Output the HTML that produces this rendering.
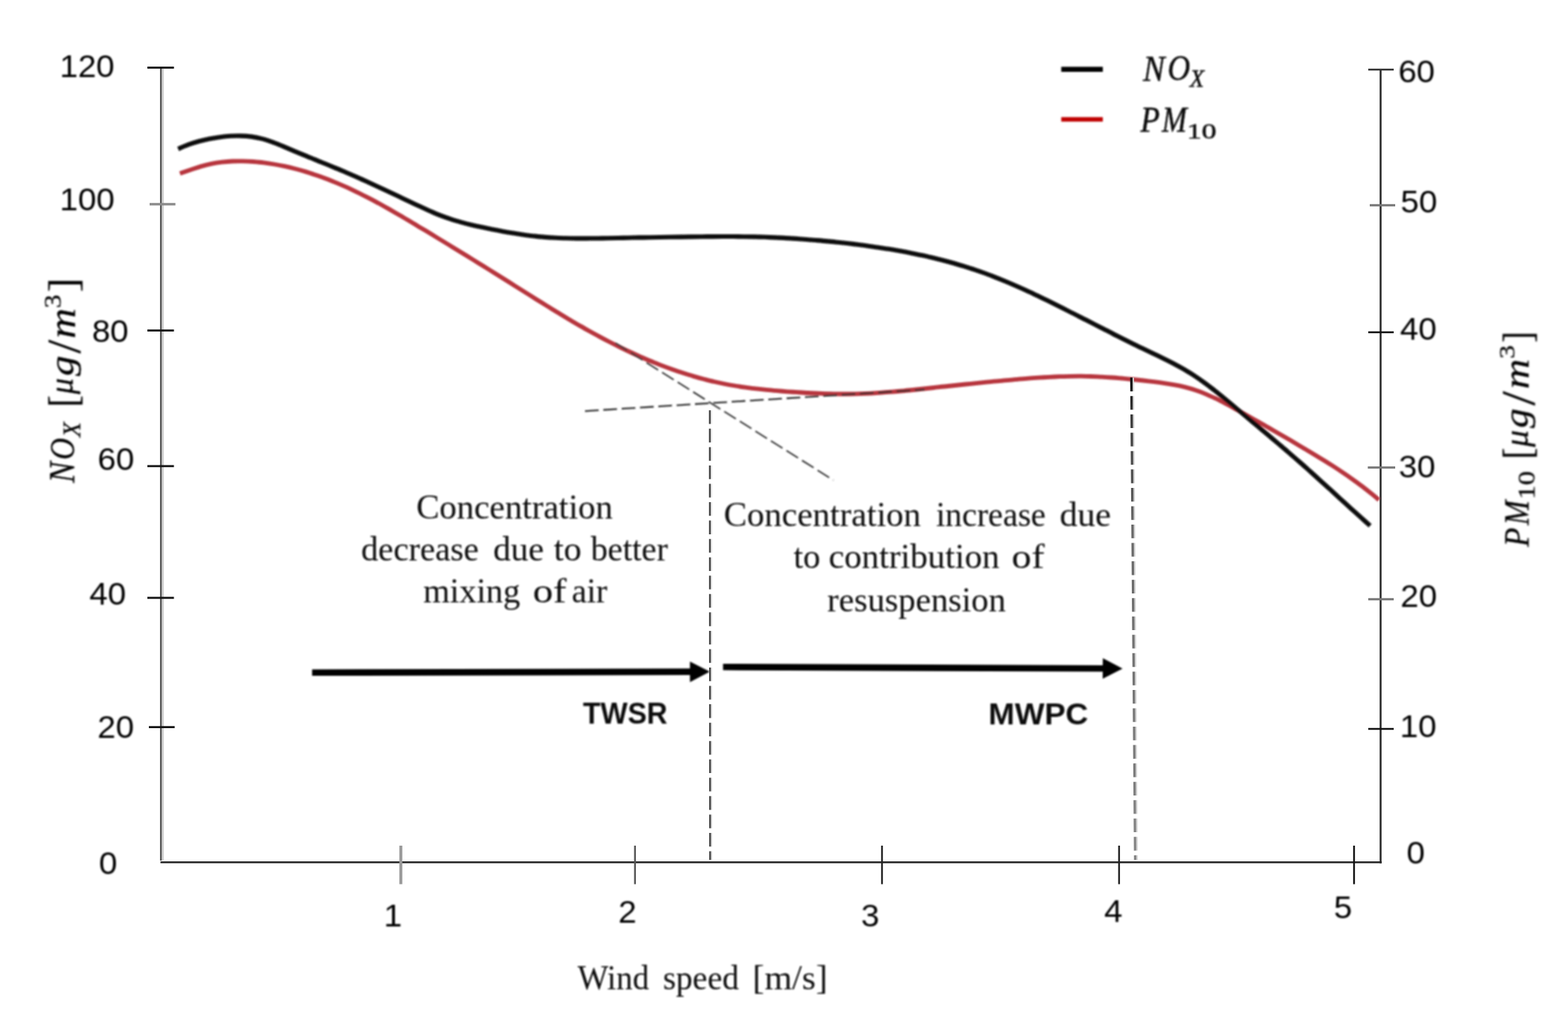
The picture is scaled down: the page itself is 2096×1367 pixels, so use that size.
<!DOCTYPE html>
<html lang="en">
<head>
<meta charset="utf-8">
<title>Concentration vs wind speed</title>
<style>
html,body{margin:0;padding:0;background:#fff;}
body{width:2096px;height:1367px;overflow:hidden;}
svg{display:block;}
text{white-space:pre;}
</style>
</head>
<body>
<svg width="2096" height="1367" viewBox="0 0 2096 1367">
<rect x="0" y="0" width="2096" height="1367" fill="#ffffff"/>
<!-- axes -->
<g id="axes" fill="none">
  <line x1="215.2" y1="90" x2="215.2" y2="1150" stroke="#555" stroke-width="2.6"/>
  <line x1="217.7" y1="92" x2="217.7" y2="1150" stroke="#d0d0d0" stroke-width="2.4"/>
  <line x1="214.5" y1="1152.3" x2="1847" y2="1152.3" stroke="#262626" stroke-width="2.4"/>
  <line x1="1845.5" y1="92" x2="1845.5" y2="1153.5" stroke="#262626" stroke-width="2.5"/>
</g>
<g id="lticks" stroke-width="2.7">
  <line x1="197" y1="90.3" x2="232.5" y2="90.3" stroke="#0c0c0c"/>
  <line x1="200" y1="272.8" x2="234.5" y2="272.8" stroke="#8a8a8a" stroke-width="3.2"/>
  <line x1="197" y1="441.6" x2="232.5" y2="441.6" stroke="#141414"/>
  <line x1="197" y1="622.8" x2="232.5" y2="622.8" stroke="#141414"/>
  <line x1="197" y1="798.9" x2="232.5" y2="798.9" stroke="#141414"/>
  <line x1="199" y1="971.7" x2="233.5" y2="971.7" stroke="#141414"/>
</g>
<g id="rticks" stroke-width="2.5">
  <line x1="1829" y1="92.9" x2="1863" y2="92.9" stroke="#333"/>
  <line x1="1831" y1="274.2" x2="1865" y2="274.2" stroke="#777" stroke-width="2.9"/>
  <line x1="1829" y1="443.9" x2="1863" y2="443.9" stroke="#111"/>
  <line x1="1828.4" y1="624.7" x2="1865" y2="624.7" stroke="#777" stroke-width="3"/>
  <line x1="1829" y1="800.7" x2="1863" y2="800.7" stroke="#777" stroke-width="2.9"/>
  <line x1="1829" y1="973.9" x2="1863" y2="973.9" stroke="#111"/>
</g>
<g id="xticks" stroke-width="2.4">
  <line x1="535.8" y1="1130" x2="535.8" y2="1181.5" stroke="#9a9a9a" stroke-width="4"/>
  <line x1="848.8" y1="1130" x2="848.8" y2="1181.5" stroke="#555"/>
  <line x1="1179" y1="1130" x2="1179" y2="1181.5" stroke="#222"/>
  <line x1="1495.9" y1="1130" x2="1495.9" y2="1181.5" stroke="#222"/>
  <line x1="1810" y1="1130" x2="1810" y2="1181.5" stroke="#111"/>
</g>

<defs><filter id="soft" x="-2%" y="-2%" width="104%" height="104%"><feGaussianBlur stdDeviation="0.80"/></filter></defs>
<g filter="url(#soft)">
<!-- curves -->
<path id="pm" d="M240.5,231.8 C242.8,231.0 249.8,228.5 254.5,226.9 C259.2,225.4 263.8,223.8 268.5,222.4 C273.2,221.1 277.8,219.9 282.5,218.9 C287.2,217.9 291.8,217.2 296.5,216.6 C301.2,216.1 305.8,215.7 310.5,215.5 C315.2,215.3 319.8,215.3 324.5,215.4 C329.2,215.5 333.8,215.7 338.5,216.0 C343.2,216.4 347.8,216.8 352.5,217.4 C357.2,218.0 361.8,218.7 366.5,219.5 C371.2,220.3 375.8,221.2 380.5,222.2 C385.2,223.2 389.8,224.3 394.5,225.5 C399.2,226.7 403.8,228.0 408.5,229.4 C413.2,230.8 417.8,232.4 422.5,234.0 C427.2,235.5 431.8,237.2 436.5,239.0 C441.2,240.8 445.8,242.7 450.5,244.6 C455.2,246.6 459.8,248.6 464.5,250.7 C469.2,252.8 473.8,255.1 478.5,257.3 C483.2,259.6 487.8,262.0 492.5,264.4 C497.2,266.8 501.8,269.3 506.5,271.8 C511.2,274.4 515.8,277.0 520.5,279.6 C525.2,282.3 529.8,285.0 534.5,287.7 C539.2,290.4 543.8,293.2 548.5,296.0 C553.2,298.7 557.8,301.6 562.5,304.4 C567.2,307.2 571.8,310.0 576.5,312.8 C581.2,315.7 585.8,318.5 590.5,321.4 C595.2,324.2 599.8,327.1 604.5,329.9 C609.2,332.8 613.8,335.6 618.5,338.5 C623.2,341.4 627.8,344.2 632.5,347.1 C637.2,350.0 641.8,352.9 646.5,355.8 C651.2,358.7 655.8,361.6 660.5,364.5 C665.2,367.4 669.8,370.3 674.5,373.3 C679.2,376.2 683.8,379.1 688.5,382.1 C693.2,385.0 697.8,387.9 702.5,390.9 C707.2,393.8 711.8,396.7 716.5,399.7 C721.2,402.6 725.8,405.5 730.5,408.4 C735.2,411.3 739.8,414.1 744.5,417.0 C749.2,419.8 753.8,422.7 758.5,425.4 C763.2,428.2 767.8,431.0 772.5,433.7 C777.2,436.4 781.8,439.1 786.5,441.7 C791.2,444.3 795.8,446.9 800.5,449.4 C805.2,451.9 809.8,454.3 814.5,456.8 C819.2,459.2 823.8,461.5 828.5,463.8 C833.2,466.1 837.8,468.3 842.5,470.5 C847.2,472.7 851.8,474.8 856.5,476.9 C861.2,478.9 865.8,480.9 870.5,482.8 C875.2,484.7 879.8,486.6 884.5,488.4 C889.2,490.2 893.8,491.9 898.5,493.6 C903.2,495.2 907.8,496.8 912.5,498.3 C917.2,499.8 921.8,501.3 926.5,502.6 C931.2,504.0 935.8,505.3 940.5,506.5 C945.2,507.7 949.8,508.9 954.5,510.0 C959.2,511.0 963.8,512.0 968.5,513.0 C973.2,513.9 977.8,514.7 982.5,515.5 C987.2,516.3 991.8,517.0 996.5,517.7 C1001.2,518.3 1005.8,518.9 1010.5,519.4 C1015.2,520.0 1019.8,520.5 1024.5,520.9 C1029.2,521.4 1033.8,521.8 1038.5,522.2 C1043.2,522.6 1047.8,522.9 1052.5,523.3 C1057.2,523.6 1061.8,523.9 1066.5,524.2 C1071.2,524.5 1075.8,524.8 1080.5,525.0 C1085.2,525.3 1089.8,525.5 1094.5,525.7 C1099.2,525.9 1103.8,526.1 1108.5,526.2 C1113.2,526.3 1117.8,526.4 1122.5,526.5 C1127.2,526.5 1131.8,526.5 1136.5,526.5 C1141.2,526.4 1145.8,526.3 1150.5,526.2 C1155.2,526.0 1159.8,525.8 1164.5,525.6 C1169.2,525.4 1173.8,525.1 1178.5,524.7 C1183.2,524.4 1187.8,524.0 1192.5,523.6 C1197.2,523.2 1201.8,522.8 1206.5,522.4 C1211.2,521.9 1215.8,521.4 1220.5,521.0 C1225.2,520.5 1229.8,520.0 1234.5,519.5 C1239.2,519.0 1243.8,518.5 1248.5,518.0 C1253.2,517.5 1257.8,516.9 1262.5,516.5 C1267.2,516.0 1271.8,515.5 1276.5,515.0 C1281.2,514.5 1285.8,514.0 1290.5,513.5 C1295.2,513.0 1299.8,512.6 1304.5,512.1 C1309.2,511.6 1313.8,511.2 1318.5,510.7 C1323.2,510.2 1327.8,509.8 1332.5,509.4 C1337.2,508.9 1341.8,508.5 1346.5,508.1 C1351.2,507.6 1355.8,507.2 1360.5,506.8 C1365.2,506.4 1369.8,506.0 1374.5,505.7 C1379.2,505.3 1383.8,505.0 1388.5,504.7 C1393.2,504.4 1397.8,504.1 1402.5,503.8 C1407.2,503.6 1411.8,503.4 1416.5,503.2 C1421.2,503.0 1425.8,502.9 1430.5,502.8 C1435.2,502.7 1439.8,502.7 1444.5,502.7 C1449.2,502.8 1453.8,502.9 1458.5,503.0 C1463.2,503.1 1467.8,503.4 1472.5,503.6 C1477.2,503.9 1481.8,504.2 1486.5,504.5 C1491.2,504.8 1495.8,505.2 1500.5,505.6 C1505.2,506.1 1509.8,506.5 1514.5,507.0 C1519.2,507.5 1523.8,508.0 1528.5,508.5 C1533.2,509.1 1537.8,509.6 1542.5,510.2 C1547.2,510.8 1551.8,511.4 1556.5,512.1 C1561.2,512.7 1565.8,513.5 1570.5,514.4 C1575.2,515.2 1579.8,516.2 1584.5,517.4 C1589.2,518.6 1593.8,519.9 1598.5,521.5 C1603.2,523.0 1607.8,524.8 1612.5,526.8 C1617.2,528.8 1621.8,531.0 1626.5,533.2 C1631.2,535.5 1635.8,538.0 1640.5,540.5 C1645.2,542.9 1649.8,545.6 1654.5,548.1 C1659.2,550.7 1663.8,553.4 1668.5,556.0 C1673.2,558.7 1677.8,561.3 1682.5,563.9 C1687.2,566.6 1691.8,569.3 1696.5,571.9 C1701.2,574.6 1705.8,577.3 1710.5,580.0 C1715.2,582.7 1719.8,585.4 1724.5,588.1 C1729.2,590.9 1733.8,593.6 1738.5,596.4 C1743.2,599.1 1747.8,601.9 1752.5,604.7 C1757.2,607.5 1761.8,610.3 1766.5,613.2 C1771.2,616.0 1775.8,618.9 1780.5,621.9 C1785.2,624.9 1789.8,627.9 1794.5,631.1 C1799.2,634.2 1803.8,637.4 1808.5,640.8 C1813.2,644.1 1817.8,647.6 1822.5,651.1 C1827.2,654.7 1833.0,659.5 1836.5,662.3 C1840.0,665.1 1842.1,667.1 1843.2,668.0" fill="none" stroke="#b7353e" stroke-width="5.8"/>
<path id="nox" d="M238.1,199.0 C240.4,198.0 247.4,194.9 252.1,193.2 C256.8,191.5 261.4,190.1 266.1,188.8 C270.8,187.6 275.4,186.5 280.1,185.5 C284.8,184.6 289.4,183.8 294.1,183.2 C298.8,182.6 303.4,182.1 308.1,181.8 C312.8,181.6 317.4,181.4 322.1,181.6 C326.8,181.7 331.4,182.0 336.1,182.6 C340.8,183.3 345.4,184.2 350.1,185.4 C354.8,186.6 359.4,188.2 364.1,189.9 C368.8,191.5 373.4,193.5 378.1,195.4 C382.8,197.3 387.4,199.4 392.1,201.3 C396.8,203.3 401.4,205.2 406.1,207.1 C410.8,209.1 415.4,210.9 420.1,212.8 C424.8,214.8 429.4,216.6 434.1,218.5 C438.8,220.5 443.4,222.4 448.1,224.3 C452.8,226.2 457.4,228.2 462.1,230.2 C466.8,232.1 471.4,234.2 476.1,236.2 C480.8,238.3 485.4,240.4 490.1,242.5 C494.8,244.6 499.4,246.8 504.1,248.9 C508.8,251.1 513.4,253.3 518.1,255.5 C522.8,257.7 527.4,259.9 532.1,262.1 C536.8,264.3 541.4,266.5 546.1,268.7 C550.8,270.9 555.4,273.2 560.1,275.3 C564.8,277.5 569.4,279.6 574.1,281.7 C578.8,283.7 583.4,285.7 588.1,287.6 C592.8,289.4 597.4,291.1 602.1,292.7 C606.8,294.3 611.4,295.6 616.1,296.9 C620.8,298.2 625.4,299.4 630.1,300.5 C634.8,301.6 639.4,302.6 644.1,303.6 C648.8,304.6 653.4,305.5 658.1,306.5 C662.8,307.4 667.4,308.3 672.1,309.2 C676.8,310.0 681.4,310.8 686.1,311.6 C690.8,312.4 695.4,313.1 700.1,313.8 C704.8,314.4 709.4,315.0 714.1,315.5 C718.8,316.0 723.4,316.5 728.1,316.9 C732.8,317.2 737.4,317.5 742.1,317.8 C746.8,318.0 751.4,318.2 756.1,318.3 C760.8,318.5 765.4,318.5 770.1,318.6 C774.8,318.6 779.4,318.6 784.1,318.6 C788.8,318.6 793.4,318.5 798.1,318.5 C802.8,318.4 807.4,318.3 812.1,318.2 C816.8,318.1 821.4,318.0 826.1,318.0 C830.8,317.9 835.4,317.8 840.1,317.7 C844.8,317.6 849.4,317.5 854.1,317.4 C858.8,317.4 863.4,317.3 868.1,317.2 C872.8,317.1 877.4,317.0 882.1,317.0 C886.8,316.9 891.4,316.8 896.1,316.8 C900.8,316.7 905.4,316.6 910.1,316.6 C914.8,316.5 919.4,316.4 924.1,316.4 C928.8,316.3 933.4,316.2 938.1,316.2 C942.8,316.2 947.4,316.1 952.1,316.1 C956.8,316.0 961.4,316.0 966.1,316.0 C970.8,316.0 975.4,316.0 980.1,316.0 C984.8,316.1 989.4,316.1 994.1,316.2 C998.8,316.2 1003.4,316.3 1008.1,316.4 C1012.8,316.5 1017.4,316.7 1022.1,316.8 C1026.8,317.0 1031.4,317.2 1036.1,317.4 C1040.8,317.6 1045.4,317.8 1050.1,318.1 C1054.8,318.3 1059.4,318.6 1064.1,318.9 C1068.8,319.3 1073.4,319.6 1078.1,320.0 C1082.8,320.3 1087.4,320.7 1092.1,321.1 C1096.8,321.5 1101.4,321.9 1106.1,322.4 C1110.8,322.8 1115.4,323.3 1120.1,323.8 C1124.8,324.3 1129.4,324.8 1134.1,325.3 C1138.8,325.9 1143.4,326.4 1148.1,327.0 C1152.8,327.6 1157.4,328.2 1162.1,328.9 C1166.8,329.5 1171.4,330.2 1176.1,330.9 C1180.8,331.6 1185.4,332.3 1190.1,333.1 C1194.8,333.9 1199.4,334.7 1204.1,335.5 C1208.8,336.4 1213.4,337.3 1218.1,338.2 C1222.8,339.1 1227.4,340.1 1232.1,341.1 C1236.8,342.1 1241.4,343.2 1246.1,344.3 C1250.8,345.4 1255.4,346.5 1260.1,347.8 C1264.8,349.0 1269.4,350.2 1274.1,351.5 C1278.8,352.9 1283.4,354.2 1288.1,355.7 C1292.8,357.1 1297.4,358.6 1302.1,360.1 C1306.8,361.7 1311.4,363.3 1316.1,365.0 C1320.8,366.7 1325.4,368.5 1330.1,370.3 C1334.8,372.1 1339.4,374.0 1344.1,376.0 C1348.8,377.9 1353.4,379.9 1358.1,382.0 C1362.8,384.0 1367.4,386.1 1372.1,388.3 C1376.8,390.4 1381.4,392.6 1386.1,394.8 C1390.8,397.1 1395.4,399.3 1400.1,401.6 C1404.8,403.9 1409.4,406.2 1414.1,408.5 C1418.8,410.9 1423.4,413.2 1428.1,415.6 C1432.8,417.9 1437.4,420.3 1442.1,422.7 C1446.8,425.1 1451.4,427.5 1456.1,429.8 C1460.8,432.2 1465.4,434.6 1470.1,437.0 C1474.8,439.4 1479.4,441.8 1484.1,444.1 C1488.8,446.5 1493.4,448.9 1498.1,451.2 C1502.8,453.5 1507.4,455.9 1512.1,458.2 C1516.8,460.5 1521.4,462.8 1526.1,465.0 C1530.8,467.3 1535.4,469.5 1540.1,471.7 C1544.8,474.0 1549.4,476.2 1554.1,478.5 C1558.8,480.8 1563.4,483.1 1568.1,485.5 C1572.8,488.0 1577.4,490.5 1582.1,493.2 C1586.8,495.9 1591.4,498.8 1596.1,501.8 C1600.8,504.9 1605.4,508.1 1610.1,511.5 C1614.8,514.9 1619.4,518.5 1624.1,522.1 C1628.8,525.8 1633.4,529.6 1638.1,533.5 C1642.8,537.3 1647.4,541.2 1652.1,545.2 C1656.8,549.1 1661.4,553.0 1666.1,557.0 C1670.8,560.9 1675.4,564.8 1680.1,568.7 C1684.8,572.6 1689.4,576.5 1694.1,580.4 C1698.8,584.4 1703.4,588.3 1708.1,592.3 C1712.8,596.2 1717.4,600.2 1722.1,604.2 C1726.8,608.2 1731.4,612.3 1736.1,616.4 C1740.8,620.4 1745.4,624.6 1750.1,628.8 C1754.8,632.9 1759.4,637.1 1764.1,641.4 C1768.8,645.6 1773.4,649.9 1778.1,654.1 C1782.8,658.4 1787.4,662.6 1792.1,666.9 C1796.8,671.2 1801.4,675.4 1806.1,679.7 C1810.8,683.9 1815.9,688.5 1820.1,692.3 C1824.3,696.1 1829.6,700.8 1831.5,702.5" fill="none" stroke="#0d0d0d" stroke-width="6.1"/>
<!-- guide lines -->
<g id="guides" fill="none" stroke-dasharray="18.3 6.25">
  <line x1="782" y1="549.3" x2="1236" y2="520.6" stroke="#333" stroke-width="2.3"/>
  <line x1="822.7" y1="458.4" x2="1114" y2="641.6" stroke="#3a3a3a" stroke-width="2.1"/>
</g>
<!-- arrows -->
<g id="arrows" fill="#000" stroke="none">
  <polygon points="417.2,903.1 922.3,902.0 922.3,911.4 948.8,897.6 922.3,883.9 922.3,893.3 417.2,894.5"/>
  <polygon points="966.5,895.6 1474.1,897.6 1474.0,907.0 1500.6,893.4 1474.2,879.5 1474.1,888.9 966.5,887.0"/>
</g>
<!-- legend -->
<line x1="1418.6" y1="92.6" x2="1474.2" y2="92.6" stroke="#000" stroke-width="6.8"/>
<line x1="1418.6" y1="159.5" x2="1474.2" y2="159.5" stroke="#c00000" stroke-width="6.2"/>
<g id="legend-text">
<text transform="translate(1528.07,107.55)" font-family='"Liberation Serif","DejaVu Serif",serif' fill="#101010" stroke="#101010" stroke-width="0.60" stroke-linejoin="round"><tspan x="0.00" y="0.00" font-size="47.79" font-style="italic" textLength="29.00" lengthAdjust="spacingAndGlyphs">N</tspan><tspan x="32.70" y="-0.08" font-size="47.61" font-style="italic" textLength="30.11" lengthAdjust="spacingAndGlyphs">O</tspan><tspan x="62.38" y="8.10" font-size="34.05" font-style="italic" textLength="19.13" lengthAdjust="spacingAndGlyphs">X</tspan></text>
<text transform="translate(1524.46,175.55)" font-family='"Liberation Serif","DejaVu Serif",serif' fill="#101010" stroke="#101010" stroke-width="0.60" stroke-linejoin="round"><tspan x="0.00" y="0.00" font-size="47.94" font-style="italic" textLength="25.78" lengthAdjust="spacingAndGlyphs">P</tspan><tspan x="28.79" y="0.00" font-size="47.94" font-style="italic" textLength="33.32" lengthAdjust="spacingAndGlyphs">M</tspan><tspan x="62.02" y="9.71" font-size="29.48" textLength="39.66" lengthAdjust="spacingAndGlyphs">10</tspan></text>
</g>
<!-- tick labels -->
<g id="tick-labels">
  <text transform="translate(79.69,102.58) scale(0.4400,0.4240)" font-family='"Liberation Sans","DejaVu Sans",sans-serif' font-size="100" fill="#000">120</text>
  <text transform="translate(79.74,280.93) scale(0.4400,0.4240)" font-family='"Liberation Sans","DejaVu Sans",sans-serif' font-size="100" fill="#000">100</text>
  <text transform="translate(122.91,456.58) scale(0.4400,0.4240)" font-family='"Liberation Sans","DejaVu Sans",sans-serif' font-size="100" fill="#000">80</text>
  <text transform="translate(130.50,628.28) scale(0.4400,0.4240)" font-family='"Liberation Sans","DejaVu Sans",sans-serif' font-size="100" fill="#000">60</text>
  <text transform="translate(119.55,808.13) scale(0.4400,0.4240)" font-family='"Liberation Sans","DejaVu Sans",sans-serif' font-size="100" fill="#000">40</text>
  <text transform="translate(130.25,986.13) scale(0.4400,0.4240)" font-family='"Liberation Sans","DejaVu Sans",sans-serif' font-size="100" fill="#000">20</text>
  <text transform="translate(132.19,1167.58) scale(0.4400,0.4240)" font-family='"Liberation Sans","DejaVu Sans",sans-serif' font-size="100" fill="#000">0</text>
  <text transform="translate(1869.15,109.68) scale(0.4400,0.4240)" font-family='"Liberation Sans","DejaVu Sans",sans-serif' font-size="100" fill="#000">60</text>
  <text transform="translate(1872.17,283.63) scale(0.4400,0.4240)" font-family='"Liberation Sans","DejaVu Sans",sans-serif' font-size="100" fill="#000">50</text>
  <text transform="translate(1871.55,453.68) scale(0.4400,0.4240)" font-family='"Liberation Sans","DejaVu Sans",sans-serif' font-size="100" fill="#000">40</text>
  <text transform="translate(1869.67,637.58) scale(0.4400,0.4240)" font-family='"Liberation Sans","DejaVu Sans",sans-serif' font-size="100" fill="#000">30</text>
  <text transform="translate(1872.00,811.13) scale(0.4400,0.4240)" font-family='"Liberation Sans","DejaVu Sans",sans-serif' font-size="100" fill="#000">20</text>
  <text transform="translate(1871.20,985.38) scale(0.4400,0.4240)" font-family='"Liberation Sans","DejaVu Sans",sans-serif' font-size="100" fill="#000">10</text>
  <text transform="translate(1880.24,1154.33) scale(0.4400,0.4240)" font-family='"Liberation Sans","DejaVu Sans",sans-serif' font-size="100" fill="#000">0</text>
  <text transform="translate(513.09,1237.92) scale(0.4400,0.4240)" font-family='"Liberation Sans","DejaVu Sans",sans-serif' font-size="100" fill="#000">1</text>
  <text transform="translate(826.39,1232.64) scale(0.4400,0.4240)" font-family='"Liberation Sans","DejaVu Sans",sans-serif' font-size="100" fill="#000">2</text>
  <text transform="translate(1150.95,1238.18) scale(0.4400,0.4240)" font-family='"Liberation Sans","DejaVu Sans",sans-serif' font-size="100" fill="#000">3</text>
  <text transform="translate(1476.05,1231.52) scale(0.4400,0.4240)" font-family='"Liberation Sans","DejaVu Sans",sans-serif' font-size="100" fill="#000">4</text>
  <text transform="translate(1782.89,1226.86) scale(0.4400,0.4240)" font-family='"Liberation Sans","DejaVu Sans",sans-serif' font-size="100" fill="#000">5</text>
</g>
<!-- annotations -->
<g id="annotations">
  <text id="note-left" font-family='"Liberation Serif","DejaVu Serif",serif' font-size="47.00" fill="#0c0c0c"><tspan x="556.39" y="692.50" textLength="262.85" lengthAdjust="spacingAndGlyphs">Concentration</tspan> <tspan x="482.75" y="748.50" textLength="157.37" lengthAdjust="spacingAndGlyphs">decrease</tspan> <tspan x="659.20" y="748.50" textLength="67.94" lengthAdjust="spacingAndGlyphs">due</tspan> <tspan x="740.27" y="748.50" textLength="37.08" lengthAdjust="spacingAndGlyphs">to</tspan> <tspan x="789.65" y="748.50" textLength="103.19" lengthAdjust="spacingAndGlyphs">better</tspan> <tspan x="565.73" y="805.30" textLength="129.66" lengthAdjust="spacingAndGlyphs">mixing</tspan> <tspan x="712.28" y="805.30" textLength="45.16" lengthAdjust="spacingAndGlyphs">of</tspan> <tspan x="764.17" y="805.30" textLength="47.72" lengthAdjust="spacingAndGlyphs">air</tspan></text>
  <text id="note-right" font-family='"Liberation Serif","DejaVu Serif",serif' font-size="47.00" fill="#0c0c0c"><tspan x="967.39" y="703.30" textLength="263.76" lengthAdjust="spacingAndGlyphs">Concentration</tspan> <tspan x="1251.15" y="703.30" textLength="146.89" lengthAdjust="spacingAndGlyphs">increase</tspan> <tspan x="1416.38" y="703.30" textLength="68.78" lengthAdjust="spacingAndGlyphs">due</tspan> <tspan x="1060.69" y="759.30" textLength="35.91" lengthAdjust="spacingAndGlyphs">to</tspan> <tspan x="1107.68" y="759.30" textLength="228.49" lengthAdjust="spacingAndGlyphs">contribution</tspan> <tspan x="1352.34" y="759.30" textLength="44.01" lengthAdjust="spacingAndGlyphs">of</tspan> <tspan x="1105.83" y="817.20" textLength="238.77" lengthAdjust="spacingAndGlyphs">resuspension</tspan></text>
  <text id="xtitle" font-family='"Liberation Serif","DejaVu Serif",serif' font-size="47.00" fill="#0c0c0c"><tspan x="772.05" y="1321.90" textLength="95.51" lengthAdjust="spacingAndGlyphs">Wind</tspan> <tspan x="886.16" y="1321.90" textLength="101.61" lengthAdjust="spacingAndGlyphs">speed</tspan> <tspan x="1006.09" y="1321.90" textLength="100.16" lengthAdjust="spacingAndGlyphs">[m/s]</tspan></text>
  <text transform="translate(779.37,966.55) scale(0.3835,0.3986)" font-family='"Liberation Sans","DejaVu Sans",sans-serif' font-size="100" font-weight="bold" fill="#111">TWSR</text>
  <text transform="translate(1321.31,967.95) scale(0.4212,0.4028)" font-family='"Liberation Sans","DejaVu Sans",sans-serif' font-size="100" font-weight="bold" fill="#111">MWPC</text>
</g>
<!-- axis titles -->
<g id="ytitle-left">
<text transform="translate(99.15,645.14) rotate(-90)" font-family='"Liberation Serif","DejaVu Serif",serif' fill="#000" stroke="#000" stroke-width="0.30" stroke-linejoin="round"><tspan x="0.00" y="0.00" font-size="48.09" font-style="italic" textLength="28.16" lengthAdjust="spacingAndGlyphs">N</tspan><tspan x="30.67" y="-0.17" font-size="47.46" font-style="italic" textLength="29.11" lengthAdjust="spacingAndGlyphs">O</tspan><tspan x="60.94" y="8.40" font-size="34.20" font-style="italic" textLength="20.12" lengthAdjust="spacingAndGlyphs">X</tspan> <tspan x="101.28" y="3.75" font-size="54.46" textLength="15.59" lengthAdjust="spacingAndGlyphs">[</tspan><tspan x="118.59" y="-1.60" font-size="46.52" font-style="italic" textLength="21.36" lengthAdjust="spacingAndGlyphs">μ</tspan><tspan x="142.69" y="-1.30" font-size="46.18" font-style="italic" textLength="27.23" lengthAdjust="spacingAndGlyphs">g</tspan><tspan x="172.89" y="7.77" font-size="63.43" textLength="18.39" lengthAdjust="spacingAndGlyphs">/</tspan><tspan x="192.72" y="0.50" font-size="50.00" font-style="italic" textLength="40.53" lengthAdjust="spacingAndGlyphs">m</tspan><tspan x="233.16" y="-18.41" font-size="31.04" textLength="18.29" lengthAdjust="spacingAndGlyphs">3</tspan><tspan x="254.68" y="3.75" font-size="54.46" textLength="19.09" lengthAdjust="spacingAndGlyphs">]</tspan></text>
</g>
<g id="ytitle-right">
<text transform="translate(2043.25,730.64) rotate(-90)" font-family='"Liberation Serif","DejaVu Serif",serif' fill="#000" stroke="#000" stroke-width="0.30" stroke-linejoin="round"><tspan x="0.00" y="0.00" font-size="47.02" font-style="italic" textLength="25.47" lengthAdjust="spacingAndGlyphs">P</tspan><tspan x="29.09" y="0.00" font-size="47.02" font-style="italic" textLength="33.13" lengthAdjust="spacingAndGlyphs">M</tspan><tspan x="63.27" y="8.19" font-size="30.52" textLength="38.05" lengthAdjust="spacingAndGlyphs">10</tspan> <tspan x="117.22" y="4.06" font-size="54.34" textLength="14.99" lengthAdjust="spacingAndGlyphs">[</tspan><tspan x="133.59" y="-1.50" font-size="46.52" font-style="italic" textLength="22.43" lengthAdjust="spacingAndGlyphs">μ</tspan><tspan x="158.89" y="-1.20" font-size="46.18" font-style="italic" textLength="26.17" lengthAdjust="spacingAndGlyphs">g</tspan><tspan x="188.89" y="7.87" font-size="62.99" textLength="19.20" lengthAdjust="spacingAndGlyphs">/</tspan><tspan x="210.74" y="0.00" font-size="48.72" font-style="italic" textLength="40.31" lengthAdjust="spacingAndGlyphs">m</tspan><tspan x="251.16" y="-19.00" font-size="30.00" textLength="18.29" lengthAdjust="spacingAndGlyphs">3</tspan><tspan x="273.07" y="4.06" font-size="54.34" textLength="14.50" lengthAdjust="spacingAndGlyphs">]</tspan></text>
</g>
</g>
<defs><linearGradient id="vg" gradientUnits="userSpaceOnUse" x1="0" y1="508" x2="0" y2="1149"><stop offset="0" stop-color="#111"/><stop offset="0.06" stop-color="#333"/><stop offset="0.3" stop-color="#666"/><stop offset="1" stop-color="#858585"/></linearGradient></defs>
<g id="guides-v" fill="none" stroke-dasharray="18.3 6.25">
  <line x1="950.6" y1="548.3" x2="951" y2="1149" stroke="#dcdcdc" stroke-width="2"/>
  <line x1="1514.6" y1="504.6" x2="1519.7" y2="1149" stroke="#d2d2d2" stroke-width="2.4"/>
  <line x1="948.8" y1="548.3" x2="949.2" y2="1149" stroke="#444" stroke-width="2.3"/>
  <line x1="1512.3" y1="504.6" x2="1517.4" y2="1149" stroke="url(#vg)" stroke-width="3.2"/>
</g>
</svg>
</body>
</html>
